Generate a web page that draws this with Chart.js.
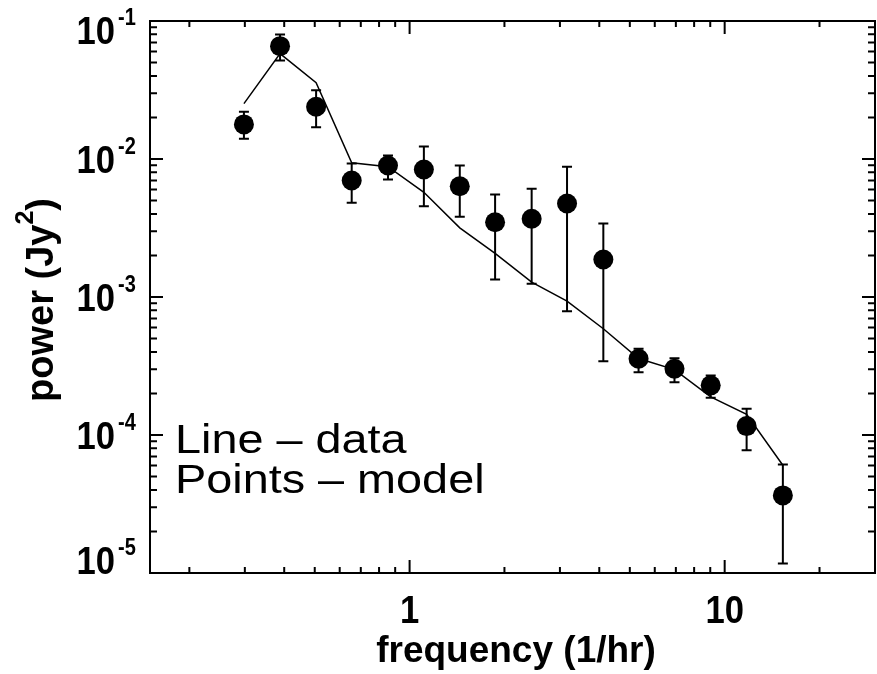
<!DOCTYPE html>
<html>
<head>
<meta charset="utf-8">
<title>power spectrum</title>
<script src="https://cdn.jsdelivr.net/npm/chart.js@4/dist/chart.umd.min.js"></script>
<style>
  html, body { margin: 0; padding: 0; background: #fff; }
  canvas { display: block; }
</style>
</head>
<body>
<canvas id="spec" width="877" height="674"></canvas>
<script>
// valores
const freq = [0.298, 0.388, 0.505, 0.655, 0.854, 1.11, 1.443, 1.868, 2.44, 3.16, 4.12, 5.33, 6.93, 9.03, 11.74, 15.3];
const modelPower = [0.0178, 0.0657, 0.0239, 0.00698, 0.00897, 0.00839, 0.00635, 0.00348, 0.00369, 0.00476, 0.00187, 0.000357, 0.000302, 0.000229, 0.000116, 3.65e-5];
const modelHigh = [0.022, 0.0798, 0.0315, 0.00927, 0.0106, 0.0123, 0.00897, 0.00553, 0.00608, 0.00878, 0.00341, 0.000421, 0.00036, 0.00027, 0.000155, 6.11e-5];
const modelLow = [0.014, 0.0518, 0.017, 0.00482, 0.0071, 0.00455, 0.00381, 0.00134, 0.00125, 0.000789, 0.000343, 0.000285, 0.000241, 0.000186, 7.76e-5, 1.17e-5];
const dataPower = [0.0252, 0.0581, 0.0357, 0.00939, 0.0088, 0.00574, 0.00317, 0.00207, 0.00128, 0.000933, 0.000589, 0.000358, 0.000298, 0.000189, 0.000141, 6.04e-5];

const xTickValues = [1, 10];
const xTickLabels = ['1', '10'];
const yTickValues = [1e-1, 1e-2, 1e-3, 1e-4, 1e-5];
const yTickExp = ['-1', '-2', '-3', '-4', '-5'];
const xTitle = 'frequency (1/hr)';
const yTitle = ['power (Jy', '2', ')'];
const noteLines = ['Line \u2013 data', 'Points \u2013 model'];

const FONT = '"Liberation Sans", Arial, sans-serif';

function txt(ctx, s, x, y, font, align, sx, sy) {
    ctx.save();
    ctx.translate(x, y);
    ctx.scale(sx || 1, sy || 1);
    ctx.font = font;
    ctx.textAlign = align || 'left';
    ctx.textBaseline = 'alphabetic';
    ctx.fillStyle = '#000';
    ctx.fillText(s, 0, 0);
    ctx.restore();
}

// barras de error
const errorBars = {
    id: 'errorBars',
    afterDatasetsDraw(chart) {
        const ctx = chart.ctx, xs = chart.scales.x, ys = chart.scales.y;
        ctx.save();
        ctx.strokeStyle = '#000';
        ctx.lineWidth = 2;
        freq.forEach((f, i) => {
            const px = xs.getPixelForValue(f);
            const top = ys.getPixelForValue(modelHigh[i]);
            const bot = ys.getPixelForValue(modelLow[i]);
            ctx.beginPath();
            ctx.moveTo(px, top); ctx.lineTo(px, bot);
            ctx.moveTo(px - 5, top); ctx.lineTo(px + 5, top);
            ctx.moveTo(px - 5, bot); ctx.lineTo(px + 5, bot);
            ctx.stroke();
        });
        ctx.restore();
    }
};

// ejes estilo IDL: caja con ticks hacia dentro
const frameAxes = {
    id: 'frameAxes',
    afterDraw(chart) {
        const ctx = chart.ctx, xs = chart.scales.x, ys = chart.scales.y;
        const a = chart.chartArea;
        ctx.save();
        ctx.strokeStyle = '#000';
        ctx.lineWidth = 2;
        ctx.strokeRect(a.left, a.top, a.right - a.left, a.bottom - a.top);

        ctx.beginPath();
        // ticks eje x
        for (let d = -1; d <= 1; d++) {
            for (let m = 1; m <= 9; m++) {
                const v = m * Math.pow(10, d);
                if (v < xs.min || v > xs.max) continue;
                const px = xs.getPixelForValue(v);
                const len = m === 1 ? 13 : 6;
                ctx.moveTo(px, a.bottom); ctx.lineTo(px, a.bottom - len);
                ctx.moveTo(px, a.top); ctx.lineTo(px, a.top + len);
            }
        }
        // ticks eje y
        for (let d = -5; d <= -1; d++) {
            for (let m = 1; m <= 9; m++) {
                const v = m * Math.pow(10, d);
                if (v < ys.min * 0.999 || v > ys.max * 1.001) continue;
                const py = ys.getPixelForValue(v);
                const len = m === 1 ? 13 : 7;
                ctx.moveTo(a.left, py); ctx.lineTo(a.left + len, py);
                ctx.moveTo(a.right, py); ctx.lineTo(a.right - len, py);
            }
        }
        ctx.stroke();
        ctx.restore();

        // etiquetas y
        yTickValues.forEach((v, i) => {
            let cy = ys.getPixelForValue(v);
            cy = Math.min(Math.max(cy, a.top + 8.5), a.bottom - 13.5);
            const base = cy + 14;
            txt(ctx, '10', 115, base, 'bold 33px ' + FONT, 'right', 1.05, 1.2);
            txt(ctx, yTickExp[i], 118, base - 19, 'bold 20px ' + FONT, 'left', 1, 1.2);
        });
        // etiquetas x
        xTickValues.forEach((v, i) => {
            const px = xs.getPixelForValue(v);
            txt(ctx, xTickLabels[i], px, 623, 'bold 33px ' + FONT, 'center', 1.05, 1.2);
        });
        // titulo x
        txt(ctx, xTitle, 516, 662, 'bold 37px ' + FONT, 'center');

        // titulo y (rotado)
        ctx.save();
        ctx.translate(53, 300);
        ctx.rotate(-Math.PI / 2);
        ctx.font = 'bold 38px ' + FONT;
        const w0 = ctx.measureText(yTitle[0]).width;
        const w2 = ctx.measureText(yTitle[2]).width;
        ctx.font = 'bold 25px ' + FONT;
        const w1 = ctx.measureText(yTitle[1]).width;
        let x0 = -(w0 + w1 + w2) / 2;
        txt(ctx, yTitle[0], x0, 0, 'bold 38px ' + FONT, 'left');
        txt(ctx, yTitle[1], x0 + w0, -20, 'bold 25px ' + FONT, 'left');
        txt(ctx, yTitle[2], x0 + w0 + w1, 0, 'bold 38px ' + FONT, 'left');
        ctx.restore();

        // nota
        txt(ctx, noteLines[0], 175, 453, '40px ' + FONT, 'left', 1.17, 1);
        txt(ctx, noteLines[1], 175, 493, '40px ' + FONT, 'left', 1.17, 1);
    }
};

const ctxSpec = document.getElementById('spec').getContext('2d');
new Chart(ctxSpec, {
    type: 'scatter',
    data: {
        datasets: [
            {
                type: 'line',
                label: 'data',
                data: freq.map((f, i) => ({ x: f, y: dataPower[i] })),
                borderColor: '#000',
                borderWidth: 1.5,
                pointRadius: 0,
                fill: false,
                tension: 0
            },
            {
                label: 'model',
                data: freq.map((f, i) => ({ x: f, y: modelPower[i] })),
                backgroundColor: '#000',
                borderColor: '#000',
                pointRadius: 10,
                pointBorderWidth: 0
            }
        ]
    },
    options: {
        responsive: false,
        animation: false,
        layout: { autoPadding: false, padding: { left: 150, top: 21, right: 2, bottom: 101 } },
        plugins: {
            legend: { display: false },
            tooltip: { enabled: false }
        },
        scales: {
            x: { type: 'logarithmic', min: 0.15, max: 30, display: false },
            y: { type: 'logarithmic', min: 1e-5, max: 1e-1, display: false }
        }
    },
    plugins: [errorBars, frameAxes]
});
</script>
</body>
</html>
